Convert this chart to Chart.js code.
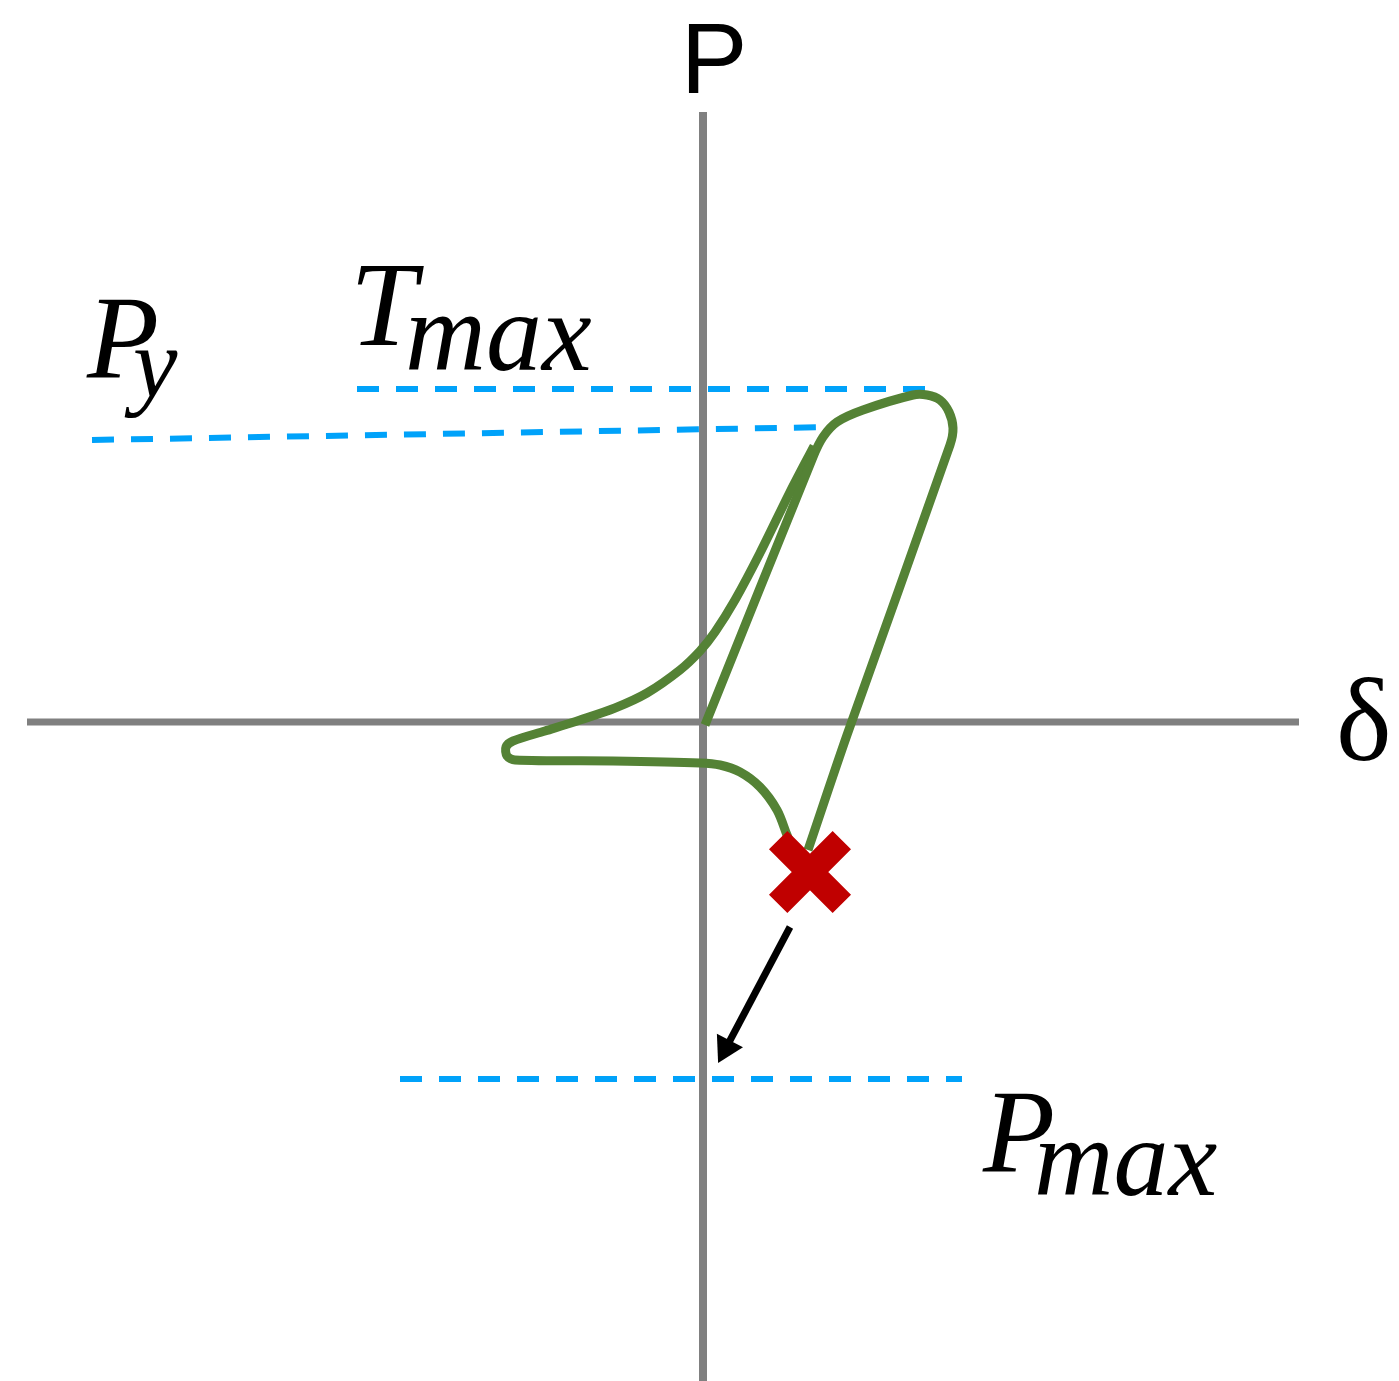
<!DOCTYPE html>
<html>
<head>
<meta charset="utf-8">
<script src="https://cdn.jsdelivr.net/npm/chart.js@4.4.1/dist/chart.umd.min.js"></script>
<style>
    html, body { margin: 0; padding: 0; background: #ffffff; }
    #loopCanvas { display: block; }
</style>
</head>
<body>
<canvas id="loopCanvas" width="1399" height="1381"></canvas>
<script>
// visible window of the δ-P plane
const deltaRange = [-7.03, 6.96];
const loadRange = [-6.59, 7.22];

// the two axes
const deltaAxisX = [-6.76, 5.96];
const deltaAxisY = [0, 0];
const loadAxisX = [0, 0];
const loadAxisY = [6.10, -6.70];

// branch 1: straight reload, over the rounded peak, then down to fracture
const reloadDelta = [0.02, 1.10, 1.20, 1.34, 1.60, 2.10, 2.24, 2.37, 2.46, 2.50, 2.47, 1.44, 1.05];
const reloadP = [-0.03, 2.65, 2.85, 3.00, 3.12, 3.27, 3.27, 3.22, 3.10, 2.94, 2.77, -0.13, -1.28];

// branch 2: first loading curve, compression tip and the tail to fracture
const firstDelta = [1.11, 0.87, 0.57, 0.32, 0.12, -0.03, -0.23, -0.56, -0.88, -1.23, -1.58, -1.90, -1.97, -1.96, -1.88, -0.90, -0.03, 0.17, 0.37, 0.57, 0.74, 0.84, 0.89];
const firstP = [2.76, 2.30, 1.69, 1.22, 0.90, 0.71, 0.52, 0.29, 0.14, 0.02, -0.09, -0.19, -0.25, -0.34, -0.38, -0.39, -0.41, -0.43, -0.50, -0.65, -0.88, -1.13, -1.26];

// reference levels
const pyDelta = [-6.11, 1.29];
const pyP = [2.82, 2.95];
const tmaxDelta = [-3.46, 2.24];
const tmaxP = [3.33, 3.33];
const pmaxDelta = [-3.03, 2.59];
const pmaxP = [-3.57, -3.57];

// fracture point and the arrow pointing down to P max
const fractureDelta = [1.07];
const fractureP = [-1.50];
const arrowDelta = [0.87, 0.23];
const arrowP = [-2.05, -3.26];

const toPoints = (xs, ys) => xs.map((x, i) => ({ x, y: ys[i] }));

// text labels, anchored in data units
const serifItalic = "'Liberation Serif', 'Times New Roman', serif";
const labelSpots = [
    { text: "P", font: "100px 'Liberation Sans', Arial, sans-serif", x: 0.11, y: 6.29, align: "center" },
    { text: "δ", font: "118px 'Liberation Serif', 'Times New Roman', serif", x: 6.33, y: -0.38, align: "left" },
    { text: "T", font: `italic 120px ${serifItalic}`, x: -3.53, y: 3.77, align: "left" },
    { text: "max", font: `italic 112px ${serifItalic}`, x: -2.98, y: 3.52, align: "left" },
    { text: "P", font: `italic 118px ${serifItalic}`, x: -6.16, y: 3.44, align: "left" },
    { text: "y", font: `italic 100px ${serifItalic}`, x: -5.70, y: 3.25, align: "left" },
    { text: "P", font: `italic 118px ${serifItalic}`, x: 2.80, y: -4.50, align: "left" },
    { text: "max", font: `italic 110px ${serifItalic}`, x: 3.31, y: -4.73, align: "left" }
];

const labelPlugin = {
    id: "labelPlugin",
    afterDatasetsDraw(chart) {
        const { ctx, scales } = chart;
        ctx.save();
        ctx.fillStyle = "#000000";
        ctx.textBaseline = "alphabetic";
        labelSpots.forEach(p => {
            ctx.font = p.font;
            ctx.textAlign = p.align;
            ctx.fillText(p.text, scales.x.getPixelForValue(p.x), scales.y.getPixelForValue(p.y));
        });
        ctx.restore();
    }
};

document.addEventListener("DOMContentLoaded", () => {
    const greenLine = {
        showLine: true,
        borderColor: "#548235",
        borderWidth: 9,
        borderJoinStyle: "round",
        borderCapStyle: "butt",
        tension: 0.3,
        pointRadius: 0,
        order: 3
    };
    const dashLine = {
        showLine: true,
        borderColor: "#00A2FA",
        borderWidth: 6,
        borderDash: [22, 17],
        pointRadius: 0,
        tension: 0,
        order: 4
    };
    const axisLine = {
        showLine: true,
        borderColor: "#808080",
        borderWidth: 8,
        pointRadius: 0,
        tension: 0,
        order: 5
    };

    const ctx = document.getElementById("loopCanvas").getContext("2d");

    new Chart(ctx, {
        type: "scatter",
        data: {
            datasets: [
                { ...axisLine, data: toPoints(deltaAxisX, deltaAxisY), borderWidth: 7 },
                { ...axisLine, data: toPoints(loadAxisX, loadAxisY) },
                { ...dashLine, data: toPoints(pyDelta, pyP) },
                { ...dashLine, data: toPoints(tmaxDelta, tmaxP) },
                { ...dashLine, data: toPoints(pmaxDelta, pmaxP) },
                { ...greenLine, data: toPoints(reloadDelta, reloadP) },
                { ...greenLine, data: toPoints(firstDelta, firstP) },
                {
                    data: toPoints(fractureDelta, fractureP),
                    pointStyle: "crossRot",
                    pointRadius: 45,
                    pointBorderWidth: 26,
                    pointBorderColor: "#C00000",
                    pointBackgroundColor: "#C00000",
                    order: 1
                },
                {
                    // arrow shaft plus a rotated triangle for the head
                    data: toPoints(arrowDelta, arrowP),
                    showLine: true,
                    borderColor: "#000000",
                    borderWidth: 7,
                    pointRadius: [0, 17],
                    pointStyle: "triangle",
                    pointRotation: 207.6,
                    pointBorderWidth: 0,
                    pointBackgroundColor: "#000000",
                    pointBorderColor: "#000000",
                    order: 2
                }
            ]
        },
        options: {
            responsive: false,
            animation: false,
            devicePixelRatio: 1,
            layout: { padding: 0, autoPadding: false },
            plugins: {
                legend: { display: false },
                tooltip: { enabled: false }
            },
            scales: {
                x: { type: "linear", min: deltaRange[0], max: deltaRange[1], display: false },
                y: { type: "linear", min: loadRange[0], max: loadRange[1], display: false }
            }
        },
        plugins: [labelPlugin]
    });
});
</script>
</body>
</html>
